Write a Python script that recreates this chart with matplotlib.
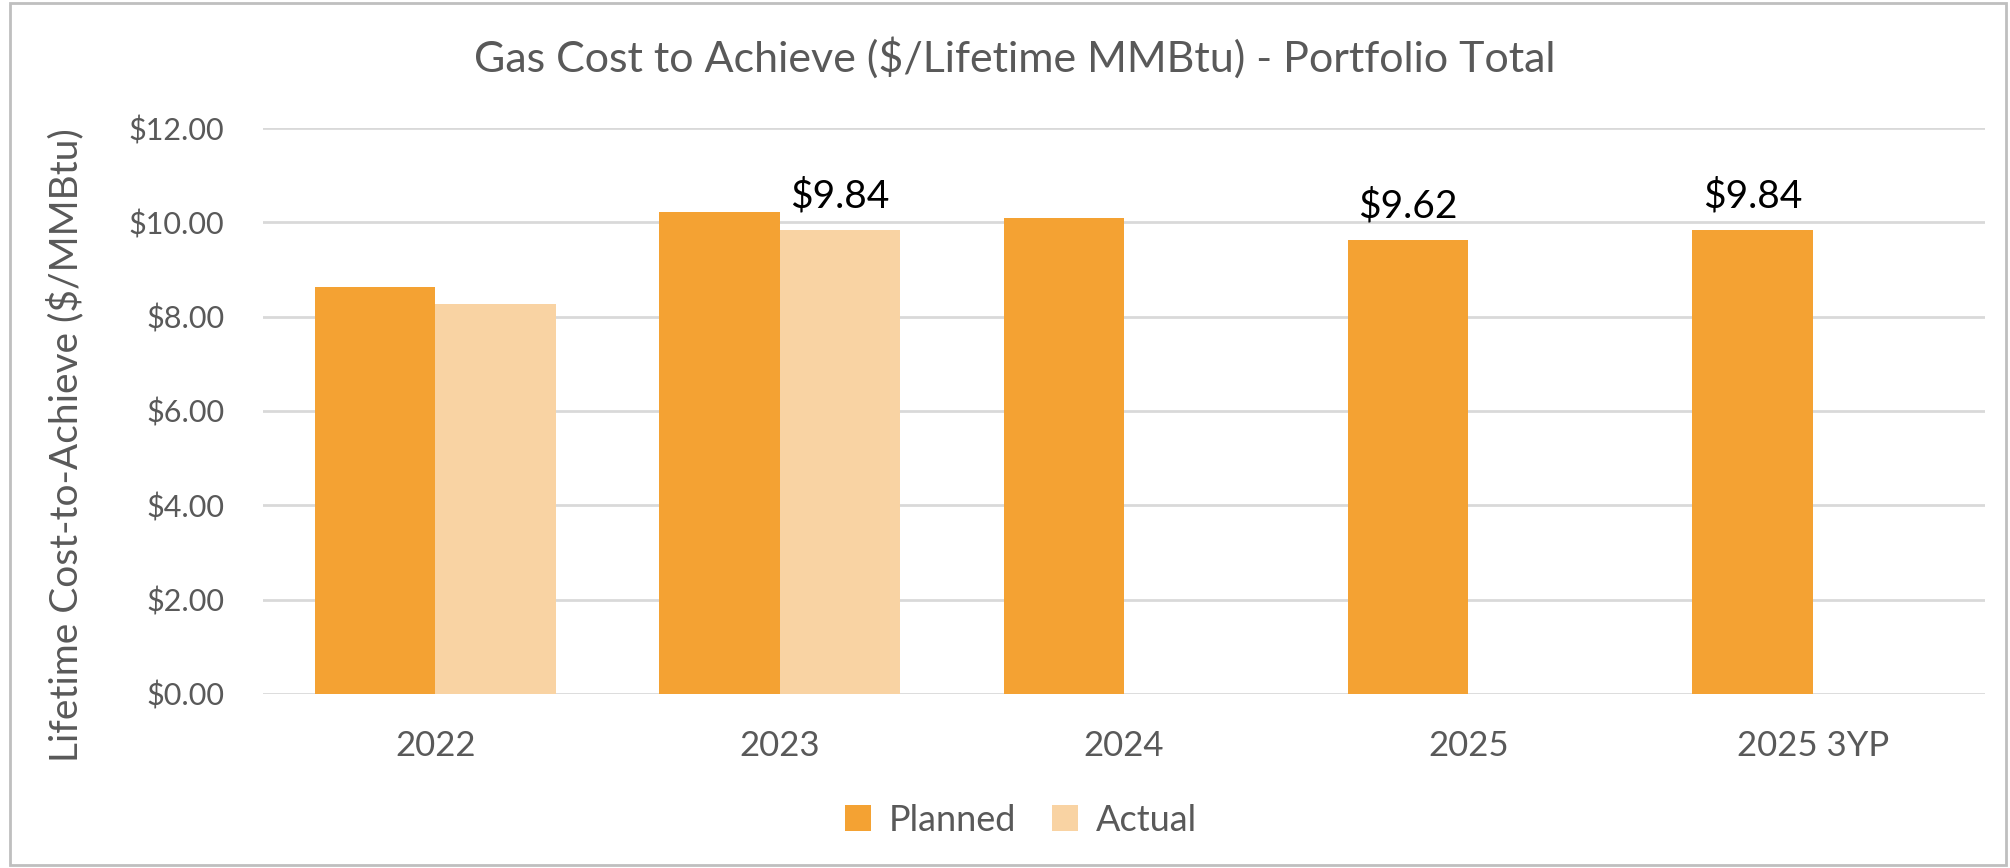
import matplotlib
matplotlib.use("Agg")
import matplotlib.pyplot as plt
from matplotlib.patches import Rectangle
import numpy as np

categories = ["2022", "2023", "2024", "2025", "2025 3YP"]
planned = [8.62, 10.23, 10.10, 9.62, 9.84]
actual = [8.27, 9.84, None, None, None]
# which bars carry a value label (series, index)
labelled = [("actual", 1), ("planned", 3), ("planned", 4)]
yticks = [0, 2, 4, 6, 8, 10, 12]

plt.rcParams['font.family'] = ['Lato', 'DejaVu Sans']
grey = '#595959'
c_plan = '#F4A233'
c_act = '#F9D3A3'

fig = plt.figure(figsize=(20.10, 8.68), dpi=100)
ax = fig.add_axes([0.131, 0.2005, 0.8565, 0.652])

x = np.arange(len(categories))
w = 0.35
bp = ax.bar(x - w / 2, planned, w, color=c_plan, label='Planned', zorder=3)
act_vals = [v if v is not None else 0 for v in actual]
ba = ax.bar(x + w / 2, act_vals, w, color=c_act, label='Actual', zorder=3)

for series, i in labelled:
    if series == "planned":
        xv, yv = x[i] - w / 2, planned[i]
    else:
        xv, yv = x[i] + w / 2, actual[i]
    ax.annotate(f"${yv:.2f}", (xv, yv), xytext=(0, 11), textcoords='offset points',
                ha='center', va='bottom', fontsize=28, color='black')

ax.set_xlim(-0.5, len(categories) - 0.5)
ax.set_ylim(0, 12)
ax.set_yticks(yticks)
ax.set_yticklabels([f"${t:.2f}" for t in yticks])
ax.set_xticks(x)
ax.set_xticklabels(categories)
ax.tick_params(axis='y', length=0, pad=28, labelsize=22, labelcolor=grey)
ax.tick_params(axis='x', length=0, pad=26, labelsize=25, labelcolor=grey)
ax.grid(axis='y', color='#D9D9D9', linewidth=2, zorder=0)
for s in ax.spines.values():
    s.set_visible(False)

ax.set_ylabel("Lifetime Cost-to-Achieve ($/MMBtu)", fontsize=28, color=grey)
ax.yaxis.set_label_coords(-0.104, 0.44)

fig.text(0.505, 0.933, "Gas Cost to Achieve ($/Lifetime MMBtu) - Portfolio Total",
         ha='center', va='center', fontsize=31, color=grey)

fig.legend(handles=[bp, ba], loc='center', bbox_to_anchor=(0.508, 0.055), ncol=2,
           frameon=False, fontsize=26, labelcolor=grey, handlelength=0.7,
           handleheight=0.7, handletextpad=0.5, columnspacing=1.0)

fig.patches.append(Rectangle((0.005, 0.003), 0.993, 0.994, transform=fig.transFigure,
                             fill=False, edgecolor='#BFBFBF', linewidth=2))

fig.savefig("out.png", dpi=100)
